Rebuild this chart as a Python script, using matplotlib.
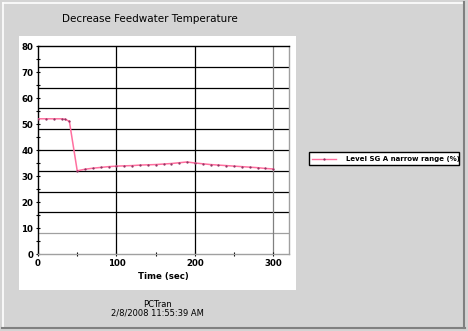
import matplotlib

matplotlib.use("Agg")
import matplotlib.pyplot as plt
from matplotlib.lines import Line2D
from matplotlib.patches import Rectangle

# Level SG A narrow range (%) vs time
time_s = [0, 10, 20, 30, 35, 40, 50, 60, 70, 80, 90, 100, 110, 120, 130, 140,
          150, 160, 170, 180, 190, 200, 210, 220, 230, 240, 250, 260, 270, 280,
          290, 300]
level_sg_a = [52.0, 52.0, 52.0, 52.0, 51.8, 51.0, 32.0, 32.6, 33.0, 33.3, 33.6,
              33.8, 33.9, 34.0, 34.2, 34.3, 34.4, 34.6, 34.8, 35.1, 35.4, 35.0,
              34.7, 34.4, 34.2, 34.0, 33.8, 33.6, 33.4, 33.2, 32.9, 32.7]

y_ticks = [0, 10, 20, 30, 40, 50, 60, 70, 80]
y_grid = [8, 16, 24, 32, 40, 48, 56, 64, 72]
x_ticks = [0, 100, 200, 300]
x_grid = [100, 200, 300]

BG = "#d4d4d4"
LINE = "#ff6f9f"
W, H = 468, 331

fig = plt.figure(figsize=(W / 100, H / 100), dpi=100, facecolor=BG)


def fx(px):
    return px / W


def fy(py):
    return 1 - py / H


# window bevel
fig.add_artist(Line2D([fx(3), fx(464)], [fy(3), fy(3)], color="white", lw=1.2))
fig.add_artist(Line2D([fx(3), fx(3)], [fy(3), fy(327)], color="white", lw=1.2))
fig.add_artist(Line2D([fx(464), fx(464)], [fy(2), fy(328)], color="#808080", lw=1.5))
fig.add_artist(Line2D([fx(2), fx(465)], [fy(328), fy(328)], color="#808080", lw=1.5))

# white plot panel behind the axes
panel = Rectangle((fx(19), fy(290)), fx(296) - fx(19), fy(36) - fy(290),
                  facecolor="white", edgecolor="none", zorder=-1)
fig.add_artist(panel)

ax = fig.add_axes([fx(38), fy(254), fx(289) - fx(38), fy(46) - fy(254)])
ax.set_facecolor("white")
ax.set_xlim(0, 320)
ax.set_ylim(0, 80)

for g in y_grid:
    ax.axhline(g, color="#a0a0a0" if g == 8 else "black", lw=0.9, zorder=1)
for g in x_grid:
    ax.axvline(g, color="#808080" if g == 300 else "black", lw=0.9, zorder=1)

ax.plot(time_s, level_sg_a, "-", color=LINE, lw=1.1, zorder=3)
ax.plot(time_s, level_sg_a, ".", color="#903060", ms=1.3, zorder=4)

ax.set_yticks(y_ticks)
ax.set_yticks(range(5, 80, 10), minor=True)
ax.set_xticks(x_ticks)
ax.set_xticks([50, 150, 250], minor=True)
for lab in ax.get_xticklabels() + ax.get_yticklabels():
    lab.set_fontweight("bold")
ax.tick_params(axis="both", which="both", labelsize=6.2, length=3, width=0.8,
               direction="inout", pad=2)

ax.spines["top"].set_color("black")
ax.spines["left"].set_color("black")
ax.spines["bottom"].set_color("#a0a0a0")
ax.spines["right"].set_color("#a0a0a0")
for s in ax.spines.values():
    s.set_linewidth(1.0)

ax.set_xlabel("Time (sec)", fontsize=6.2, fontweight="bold", labelpad=3)

fig.text(fx(150), fy(19), "Decrease Feedwater Temperature", ha="center",
         va="center", fontsize=7.5)
fig.text(fx(157), fy(309), "PCTran\n2/8/2008 11:55:39 AM", ha="center",
         va="center", fontsize=6.0, linespacing=1.0)

# legend box
fig.add_artist(Rectangle((fx(309), fy(165)), fx(459) - fx(309), fy(152) - fy(165),
                         facecolor="white", edgecolor="black", lw=1.0))
fig.add_artist(Line2D([fx(312), fx(336)], [fy(158.5), fy(158.5)], color=LINE, lw=1.0))
fig.add_artist(Line2D([fx(324)], [fy(158.5)], marker=".", color="#903060", ms=1.3))
fig.text(fx(346), fy(158.5), "Level SG A narrow range (%)", ha="left",
         va="center", fontsize=5.0, fontweight="bold")

fig.savefig("out.png", dpi=100, facecolor=BG)
